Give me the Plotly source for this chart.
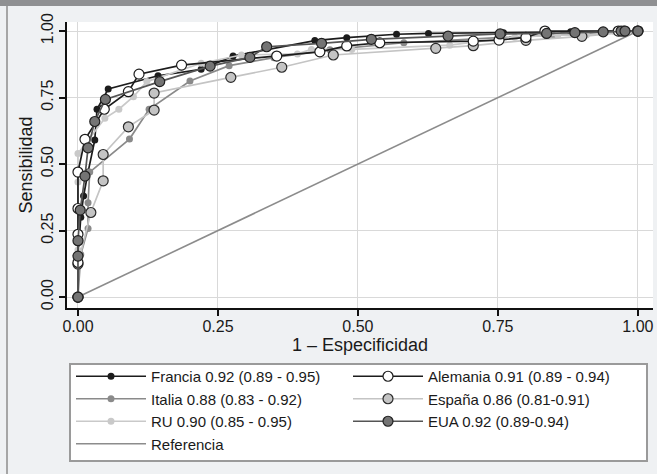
import plotly.graph_objects as go

# ---------------- data ----------------
francia_fpr = [0, 0.000, 0.005, 0.010, 0.018, 0.030, 0.034, 0.054, 0.143, 0.220, 0.277, 0.423, 0.480, 0.569, 0.626, 0.760, 0.880, 1.0]
francia_tpr = [0, 0.150, 0.300, 0.380, 0.470, 0.590, 0.706, 0.782, 0.832, 0.856, 0.906, 0.964, 0.975, 0.988, 0.991, 0.994, 0.997, 1.0]

alemania_fpr = [0, 0, 0, 0, 0, 0.0125, 0.047, 0.090, 0.109, 0.185, 0.355, 0.432, 0.480, 0.539, 0.706, 0.752, 0.800, 0.834, 0.965, 0.975, 1.0]
alemania_tpr = [0, 0.130, 0.236, 0.333, 0.470, 0.593, 0.706, 0.772, 0.838, 0.872, 0.906, 0.922, 0.944, 0.956, 0.962, 0.966, 0.976, 1.0, 1.0, 1.0, 1.0]

italia_fpr = [0, 0.005, 0.018, 0.018, 0.021, 0.092, 0.127, 0.200, 0.270, 0.350, 0.450, 0.582, 0.750, 0.850, 1.0]
italia_tpr = [0, 0.160, 0.258, 0.355, 0.470, 0.594, 0.706, 0.812, 0.870, 0.900, 0.930, 0.956, 0.975, 0.985, 1.0]

espana_fpr = [0, 0, 0.023, 0.045, 0.045, 0.090, 0.136, 0.136, 0.273, 0.364, 0.456, 0.639, 0.706, 0.800, 0.900, 1.0]
espana_tpr = [0, 0.124, 0.318, 0.437, 0.536, 0.640, 0.703, 0.767, 0.826, 0.864, 0.910, 0.935, 0.945, 0.965, 0.980, 1.0]

ru_fpr = [0, 0, 0, 0, 0.048, 0.073, 0.099, 0.123, 0.220, 0.292, 0.392, 0.417, 0.489, 0.664, 0.780, 0.857, 0.908, 0.959, 1.0]
ru_tpr = [0, 0.177, 0.433, 0.540, 0.672, 0.706, 0.753, 0.810, 0.879, 0.910, 0.914, 0.931, 0.931, 0.947, 0.977, 0.985, 0.985, 0.997, 1.0]

eua_fpr = [0, 0, 0, 0.004, 0.0125, 0.018, 0.030, 0.049, 0.146, 0.236, 0.307, 0.337, 0.435, 0.524, 0.661, 0.754, 0.837, 0.8875, 0.938, 0.970, 0.977, 1.0]
eua_tpr = [0, 0.154, 0.212, 0.327, 0.455, 0.561, 0.660, 0.743, 0.810, 0.868, 0.901, 0.941, 0.954, 0.969, 0.981, 0.989, 0.991, 0.994, 0.997, 1.0, 1.0, 1.0]

ref_x = [0, 1]
ref_y = [0, 1]

labels = [
    "Francia 0.92 (0.89 - 0.95)",
    "Alemania 0.91 (0.89 - 0.94)",
    "Italia 0.88 (0.83 - 0.92)",
    "España 0.86 (0.81-0.91)",
    "RU 0.90 (0.85 - 0.95)",
    "EUA 0.92 (0.89-0.94)",
    "Referencia",
]
tick_vals = [0, 0.25, 0.5, 0.75, 1.0]
tick_text = ["0.00", "0.25", "0.50", "0.75", "1.00"]

FONT = "Liberation Sans, Arial, Helvetica, sans-serif"

fig = go.Figure()

# reference line (drawn first, beneath curves)
fig.add_trace(go.Scatter(x=ref_x, y=ref_y, mode="lines", name=labels[6], legendrank=7,
                         line=dict(color="#8c8c8c", width=1.6)))

styles = [
    (francia_fpr, francia_tpr, labels[0], "#1c1c1c", dict(size=7, color="#1c1c1c", line=dict(width=0))),
    (italia_fpr, italia_tpr, labels[2], "#8a8a8a", dict(size=7, color="#8a8a8a", line=dict(width=0))),
    (ru_fpr, ru_tpr, labels[4], "#c9c9c9", dict(size=7, color="#c9c9c9", line=dict(width=0))),
    (espana_fpr, espana_tpr, labels[3], "#c4c4c4", dict(size=10, color="#c4c4c4", line=dict(width=1.2, color="#2a2a2a"))),
    (alemania_fpr, alemania_tpr, labels[1], "#1c1c1c", dict(size=10, color="#ffffff", line=dict(width=1.2, color="#1c1c1c"))),
    (eua_fpr, eua_tpr, labels[5], "#555555", dict(size=10, color="#747474", line=dict(width=1.2, color="#202020"))),
]
ranks = {labels[0]: 1, labels[1]: 2, labels[2]: 3, labels[3]: 4, labels[4]: 5, labels[5]: 6}
for xs, ys, nm, lc, mk in styles:
    fig.add_trace(go.Scatter(x=xs, y=ys, mode="lines+markers", name=nm, legendrank=ranks[nm],
                             line=dict(color=lc, width=1.7), marker=dict(symbol="circle", **mk)))

W, H = 657, 474
L, R, T, B = 67, 4, 22, 166
pw, ph = W - L - R, H - T - B


def px(xp):
    return (xp - L) / pw


def py(yp):
    return (H - B - yp) / ph


shapes = [
    # top dark band
    dict(type="rect", xref="paper", yref="paper", x0=px(-2), x1=px(W + 2), y0=py(6), y1=py(-2),
         fillcolor="#8f9092", line=dict(width=0), layer="below"),
    # left frame line
    dict(type="line", xref="paper", yref="paper", x0=px(7), x1=px(7), y0=py(6), y1=py(H + 2),
         line=dict(color="#a6a6a6", width=2), layer="below"),
    # legend box
    dict(type="rect", xref="paper", yref="paper", x0=px(70), x1=px(647), y0=py(461), y1=py(364),
         fillcolor="#ffffff", line=dict(color="#9a9a9a", width=2), layer="below"),
]

fig.update_layout(
    width=W, height=H,
    margin=dict(l=L, r=R, t=T, b=B, pad=0, autoexpand=False),
    paper_bgcolor="#eff1f3",
    plot_bgcolor="#ffffff",
    font=dict(family=FONT, size=15, color="#1a1a1a"),
    showlegend=True,
    legend=dict(orientation="h", x=px(71), y=py(360), xanchor="left", yanchor="top",
                bgcolor="rgba(0,0,0,0)", borderwidth=0, itemwidth=70,
                entrywidth=192, entrywidthmode="pixels", traceorder="normal",
                font=dict(family=FONT, size=15, color="#1a1a1a"), itemclick=False),
    shapes=shapes,
    xaxis=dict(range=[-0.0196, 1.027], tickvals=tick_vals, ticktext=tick_text, automargin=False,
               showgrid=True, gridcolor="#d9d9d9", gridwidth=1, zeroline=False,
               showline=True, linecolor="#111111", linewidth=2,
               ticks="outside", ticklen=6, tickwidth=1.5, tickcolor="#111111",
               tickfont=dict(size=16), ticklabelstandoff=-3,
               title=dict(text="1 – Especificidad", font=dict(size=18), standoff=0)),
    yaxis=dict(range=[-0.041, 1.034], tickvals=tick_vals, ticktext=tick_text, tickangle=-90,
               automargin=False,
               showgrid=True, gridcolor="#d9d9d9", gridwidth=1, zeroline=False,
               showline=True, linecolor="#111111", linewidth=2,
               ticks="outside", ticklen=6, tickwidth=1.5, tickcolor="#111111",
               tickfont=dict(size=16),
               title=dict(text="Sensibilidad", font=dict(size=18), standoff=1)),
)

fig.write_html("out.html", config={"displayModeBar": False},
               post_script="document.body.style.margin='0';")
